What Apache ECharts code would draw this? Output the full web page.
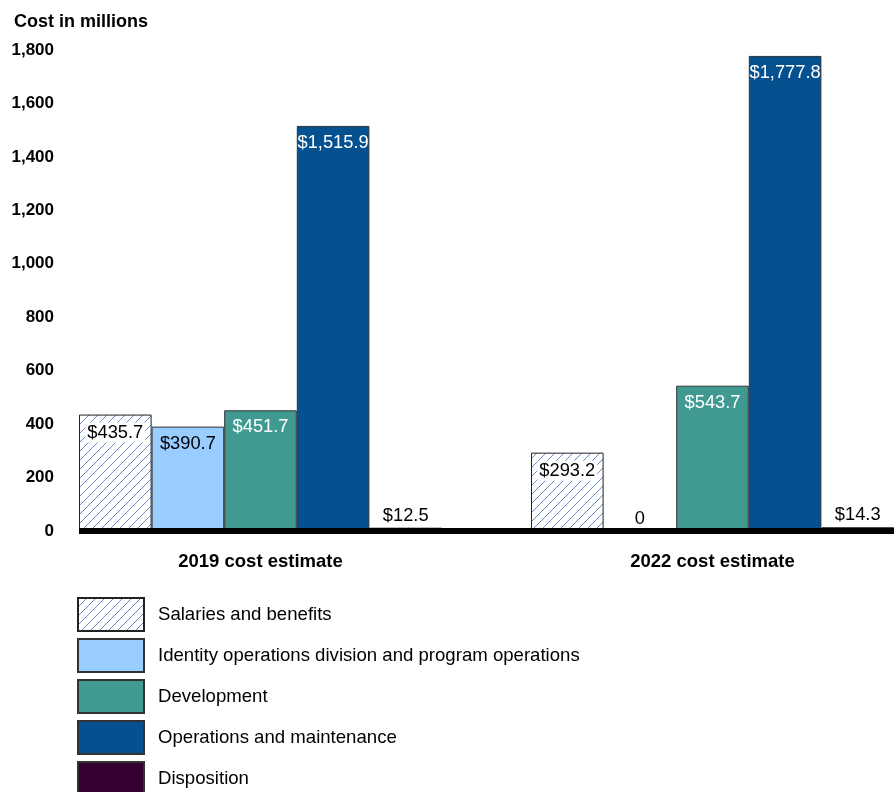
<!DOCTYPE html>
<html>
<head>
<meta charset="utf-8">
<script src="https://cdn.jsdelivr.net/npm/echarts@6/dist/echarts.min.js"></script>
<style>html,body{margin:0;padding:0;background:#fff}#c{width:894px;height:792px}</style>
</head>
<body>
<div id="c"></div>
<script>
const categories = ['2019 cost estimate', '2022 cost estimate'];
const seriesNames = ['Salaries and benefits', 'Identity operations division and program operations', 'Development', 'Operations and maintenance', 'Disposition'];
const salaries = [435.7, 293.2];
const identity = [390.7, 0];
const development = [451.7, 543.7];
const operations = [1515.9, 1777.8];
const disposition = [12.5, 14.3];
const yTicks = [0, 200, 400, 600, 800, 1000, 1200, 1400, 1600, 1800];

const FONT = '"Liberation Sans", Arial, sans-serif';

// hatch pattern
const pc = document.createElement('canvas');
pc.width = 9; pc.height = 9;
const g = pc.getContext('2d');
g.fillStyle = '#ffffff'; g.fillRect(0, 0, 9, 9);
g.strokeStyle = 'rgb(100,138,210)'; g.lineWidth = 1;
g.beginPath();
g.moveTo(0, 9); g.lineTo(9, 0);
g.moveTo(-1, 1); g.lineTo(1, -1);
g.moveTo(8, 10); g.lineTo(10, 8);
g.stroke();
const hatch = { image: pc, repeat: 'repeat' };

const fmt = v => v === 0 ? '0' : '$' + v.toLocaleString('en-US', { minimumFractionDigits: 1, maximumFractionDigits: 1 });

const defs = [
  { data: salaries, color: hatch, border: '#222', labelColor: '#000', pos: 'insideTop', bg: '#fff' },
  { data: identity, color: '#99ccff', border: '#333', labelColor: '#000', pos: 'insideTop', bg: null },
  { data: development, color: '#419a91', border: '#333', labelColor: '#fff', pos: 'insideTop', bg: null },
  { data: operations, color: '#05508f', border: '#333', labelColor: '#fff', pos: 'insideTop', bg: null },
  { data: disposition, color: '#33002f', border: '#333', labelColor: '#000', pos: 'top', bg: null }
];

const series = defs.map((d, i) => ({
  name: seriesNames[i],
  type: 'bar',
  barWidth: 72.6,
  barGap: '0%',
  itemStyle: { color: d.color, borderColor: d.border, borderWidth: 1 },
  label: {
    show: true,
    position: d.pos,
    distance: d.pos === 'top' ? 3 : 8,
    color: d.labelColor,
    fontSize: 18.3,
    fontFamily: FONT,
    backgroundColor: d.bg || 'transparent',
    padding: d.bg ? [1, 2] : 0,
    formatter: p => fmt(p.value)
  },
  data: d.data.map(v => v === 0 ? { value: v, label: { position: 'top', distance: 3 } } : v)
}));

const chart = echarts.init(document.getElementById('c'), null, { renderer: 'canvas' });
chart.setOption({
  animation: false,
  backgroundColor: '#fff',
  title: {
    text: 'Cost in millions', left: 9, top: 8,
    textStyle: { fontFamily: FONT, fontSize: 18, fontWeight: 'bold', color: '#000' }
  },
  grid: { left: 34.5, width: 904, top: 50, bottom: 261, containLabel: false, outerBoundsMode: 'none' },
  legend: {
    orient: 'vertical', left: 77, top: 597, padding: 0, height: 260,
    itemWidth: 66, itemHeight: 33, itemGap: 6,
    icon: 'rect',
    textStyle: { fontFamily: FONT, fontSize: 18.6, color: '#000', padding: [0, 0, 0, 9] },
    data: seriesNames,
    selectedMode: false
  },
  xAxis: {
    type: 'category', data: categories,
    axisLine: { show: false }, axisTick: { show: false },
    axisLabel: { margin: 21, fontFamily: FONT, fontSize: 18.5, fontWeight: 'bold', color: '#000' }
  },
  yAxis: {
    type: 'value', min: 0, max: 1800, interval: 200,
    offset: -44.5,
    axisLine: { show: false }, axisTick: { show: false }, splitLine: { show: false },
    axisLabel: {
      margin: 25, fontFamily: FONT, fontSize: 17, fontWeight: 'bold', color: '#000',
      formatter: v => yTicks.includes(v) ? v.toLocaleString('en-US') : ''
    }
  },
  series: series
});

const y0 = chart.convertToPixel({ yAxisIndex: 0 }, 0);
chart.setOption({
  graphic: [{
    type: 'line', z: 100,
    shape: { x1: 79, y1: y0, x2: 894, y2: y0 },
    style: { stroke: '#000', lineWidth: 6 }
  }]
});
</script>
</body>
</html>
